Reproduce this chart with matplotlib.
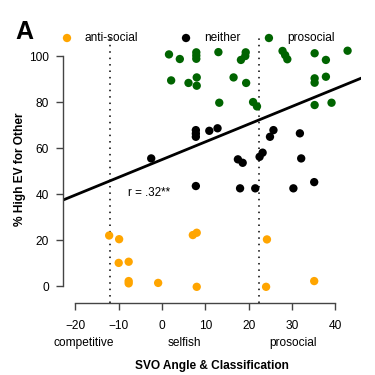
import numpy as np
import matplotlib
matplotlib.use('Agg')
import matplotlib.pyplot as plt

plt.rcParams['font.family'] = ['Liberation Sans', 'DejaVu Sans']

# SVO angle (x) and % high EV for other (y)
anti_x = [-12.2, -9.9, 7.1, 8.0, -10.0, -7.7, -7.7, -7.7, -0.9, 8.0, 24.2, 24.0, 35.1]
anti_y = [22.0, 20.4, 22.2, 23.2, 10.1, 10.6, 2.2, 1.2, 1.4, -0.3, 20.3, -0.3, 2.2]

neither_x = [-2.5, 7.8, 7.8, 7.8, 10.9, 12.8, 25.7, 24.9, 31.8, 17.5, 18.6, 22.5, 23.2,
             32.1, 7.8, 18.0, 21.5, 30.3, 35.1]
neither_y = [55.5, 67.8, 66.3, 64.9, 67.5, 68.6, 67.8, 64.9, 66.4, 55.1, 53.6, 56.2, 58.0,
             55.5, 43.5, 42.5, 42.5, 42.5, 45.2]

pro_x = [1.6, 4.1, 7.9, 7.9, 7.9, 13.0, 19.3, 19.2, 18.2, 2.1, 6.1, 8.0, 8.0, 16.5, 19.4,
         13.2, 21.0, 21.9, 27.8, 28.4, 28.9, 35.2, 37.8, 42.8, 35.2, 35.2, 37.8, 35.2, 39.1]
pro_y = [100.7, 98.7, 101.6, 100.2, 98.8, 101.7, 101.6, 100.0, 98.3, 89.4, 88.3, 90.7, 87.1,
         90.7, 88.3, 79.7, 80.0, 78.1, 102.2, 100.4, 98.6, 101.2, 98.3, 102.3, 90.3, 88.4,
         91.0, 78.7, 79.7]

groups = ['anti-social', 'neither', 'prosocial']
colors = ['#FFA500', 'black', '#006400']

# regression line
line_intercept = 55.0
line_slope = 0.77
r_label = 'r = .32**'

# SVO category boundaries and labels
boundaries = [-12.04, 22.45]
class_labels = ['competitive', 'selfish', 'prosocial']
class_pos = [-18.0, 5.2, 30.2]

xticks = [-20, -10, 0, 10, 20, 30, 40]
yticks = [0, 20, 40, 60, 80, 100]

fig = plt.figure(figsize=(3.75, 3.75), dpi=100)
ax = fig.add_axes([0.168, 0.1928, 0.7947, 0.7112])
ax.set_xlim(-22.85, 45.9)
ax.set_ylim(-7.2, 108.7)

for b in boundaries:
    ax.axvline(b, color='black', lw=1.1, dashes=(1, 3.2), zorder=1)

ax.axline((0, line_intercept), slope=line_slope, color='black', lw=2.0, zorder=2)

data = [(anti_x, anti_y), (neither_x, neither_y), (pro_x, pro_y)]
for (xs, ys), c in zip(data, colors):
    ax.scatter(xs, ys, s=36, color=c, edgecolors='none', zorder=3)

ax.text(-7.8, 40.4, r_label, fontsize=8.4, va='center', ha='left')

# legend along the top, R style
leg_x = [0.0134, 0.4128, 0.691]
for lx, g, c in zip(leg_x, groups, colors):
    ax.scatter([lx], [0.9925], s=36, color=c, edgecolors='none',
               transform=ax.transAxes, clip_on=False, zorder=4)
    ax.text(lx + 0.06, 0.9925, g, transform=ax.transAxes, fontsize=8.6,
            va='center', ha='left')

# axes like R: lines only between first and last tick
for s in ['top', 'right']:
    ax.spines[s].set_visible(False)
ax.spines['left'].set_bounds(0, 100)
ax.spines['bottom'].set_bounds(-20, 40)
for s in ['left', 'bottom']:
    ax.spines[s].set_color('#444444')
    ax.spines[s].set_linewidth(1.0)
ax.set_xticks(xticks)
ax.set_yticks(yticks)
ax.tick_params(axis='both', direction='out', length=5, width=1.0, color='#444444',
               labelsize=8.6)
ax.tick_params(axis='x', pad=7.5)
ax.tick_params(axis='y', pad=5)

for p, lab in zip(class_pos, class_labels):
    ax.text(p, -0.152, lab, transform=ax.get_xaxis_transform(), fontsize=8.6,
            ha='center', va='center')

ax.set_xlabel('SVO Angle & Classification', fontsize=8.6, fontweight='bold', labelpad=20)
ax.set_ylabel('% High EV for Other', fontsize=8.6, fontweight='bold', labelpad=2.5)

fig.text(0.064, 0.915, 'A', fontsize=18, fontweight='bold', ha='center', va='center')

fig.savefig('out.png', dpi=100)
